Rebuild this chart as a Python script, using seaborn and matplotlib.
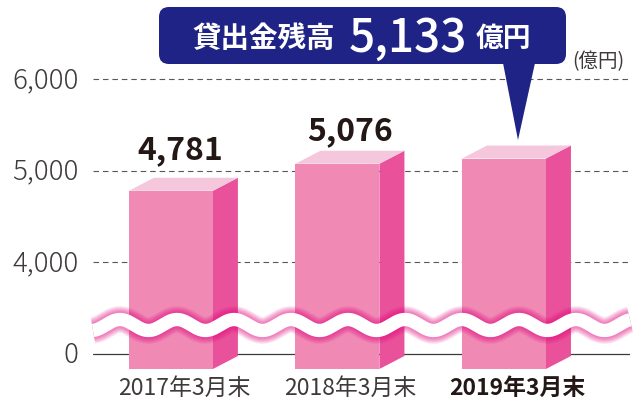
import numpy as np
import pandas as pd
import seaborn as sns
import matplotlib
matplotlib.use('Agg')
import matplotlib.pyplot as plt
from matplotlib.patches import FancyBboxPatch, Polygon
from matplotlib.transforms import Affine2D, IdentityTransform

categories = ['2017年3月末', '2018年3月末', '2019年3月末']
balance = [4781, 5076, 5133]
value_labels = ['4,781', '5,076']
yticks = [0, 4000, 5000, 6000]
ytick_labels = ['0', '4,000', '5,000', '6,000']

W, H = 643, 403
JP = ['Noto Sans CJK JP', 'DejaVu Sans']
DARK = '#231815'
NAVY = '#1f2386'
FRONT, SIDE, TOP = '#f08ab5', '#e9529b', '#f5c7dd'
MAGENTA = '#e6007e'

sns.set_theme(style='white')
plt.rcParams['font.family'] = JP


# axis is broken between 0 and 4,000: that stretch gets the height of 1,000
def forward(v):
    v = np.asarray(v, dtype=float)
    return np.where(v <= 4000, v / 4000, v / 1000 - 3)


def inverse(s):
    s = np.asarray(s, dtype=float)
    return np.where(s <= 1, s * 4000, (s + 3) * 1000)


fig = plt.figure(figsize=(W / 100, H / 100), dpi=100)
ax = fig.add_axes([93 / W, 1 - 369 / H, (630 - 93) / W, (369 - 60) / H])

df = pd.DataFrame({'month': categories, 'balance': balance})
sns.barplot(data=df, x='month', y='balance', ax=ax, color=FRONT, saturation=1,
            width=0.5045, gap=0, zorder=2, errorbar=None, linewidth=0)

ax.set_yscale('function', functions=(forward, inverse))
ax.set_ylim(-656, 6208)
ax.set_xlim(-0.468, 2.757)
ax.set_xlabel('')
ax.set_ylabel('')
ax.set_yticks(yticks)
ax.set_yticklabels(ytick_labels, fontsize=20, color='#3e3a39', fontweight='light')
ax.minorticks_off()
ax.tick_params(axis='y', length=0, pad=10.5)
ax.tick_params(axis='x', length=0, pad=6, labelsize=16.5, labelcolor='#3e3a39')
ax.get_xticklabels()[2].set_fontweight('bold')
ax.get_xticklabels()[2].set_color(DARK)
# labels sit under the whole 3d bar, not just its front face
for label in ax.get_xticklabels():
    label.set_transform(label.get_transform() + Affine2D().translate(13, 0))
for label in ax.get_yticklabels():
    label.set_transform(label.get_transform() + Affine2D().translate(0, 2))
sns.despine(ax=ax, left=True, bottom=True)
ax.patch.set_alpha(0)

for v in yticks[1:]:
    ax.axhline(v, color='#595757', lw=0.8, ls=(0, (5, 3.5)), zorder=1)
ax.axhline(0, color='#3e3a39', lw=0.9, zorder=1)

# front face runs below the zero line, then the 3d faces follow the bar
fig.canvas.draw()
base = -656
depth_x, depth_y = 25, 13
for bar in ax.patches[:3]:
    bar.set_y(base)
    bar.set_height(bar.get_height() - base)
    box = bar.get_window_extent()
    x0, x1, y0, y1 = box.x0, box.x1, box.y0, box.y1
    fig.add_artist(Polygon([(x1, y0), (x1 + depth_x, y0 + depth_y),
                            (x1 + depth_x, y1 + depth_y), (x1, y1)],
                           transform=IdentityTransform(), fc=SIDE, ec='none', zorder=2))
    fig.add_artist(Polygon([(x0, y1), (x1, y1), (x1 + depth_x, y1 + depth_y),
                            (x0 + depth_x, y1 + depth_y)],
                           transform=IdentityTransform(), fc=TOP, ec='none', zorder=2))

# pixel coordinates measured from the top left
px = Affine2D().scale(1, -1).translate(0, H)

# white wave with the magenta glow, marks the axis break
wave_x = np.linspace(93, 630, 500)
wave_y = 325 - 5.5 * np.cos(2 * np.pi * (wave_x - 120) / 57)
for lw in np.linspace(27, 14, 10):
    fig.add_artist(plt.Line2D(wave_x, wave_y, transform=px, color=MAGENTA, lw=lw * 0.72,
                              alpha=0.07, solid_capstyle='butt', zorder=3))
fig.add_artist(plt.Line2D(wave_x, wave_y, transform=px, color='white', lw=9.6,
                          solid_capstyle='butt', zorder=3.1))

# value labels over the first two bars
fig.text(180, 150, value_labels[0], transform=px, ha='center', va='center', fontsize=23,
         fontweight='bold', color=DARK, zorder=4)
fig.text(350, 131, value_labels[1], transform=px, ha='center', va='center', fontsize=23,
         fontweight='bold', color=DARK, zorder=4)

fig.text(572, 62, '(億円)', transform=px, ha='left', va='center', fontsize=14,
         color='#3e3a39', zorder=4)

# callout
fig.add_artist(FancyBboxPatch((169, 17), 387, 37, boxstyle='round,pad=10,rounding_size=10',
                              transform=px, fc=NAVY, ec='none', zorder=5))
fig.add_artist(Polygon([(503, 63), (535, 63), (518, 140)], transform=px, fc=NAVY,
                       ec='none', zorder=5))
fig.text(192, 38.5, '貸出金残高', transform=px, ha='left', va='center', fontsize=20.5,
         fontweight='bold', color='white', zorder=6)
fig.text(349, 38, '5,133', transform=px, ha='left', va='center', fontsize=33,
         fontweight='medium', color='white', zorder=6)
fig.text(476, 38.5, '億円', transform=px, ha='left', va='center', fontsize=20,
         fontweight='bold', color='white', zorder=6)

fig.savefig('out.png', dpi=100)
